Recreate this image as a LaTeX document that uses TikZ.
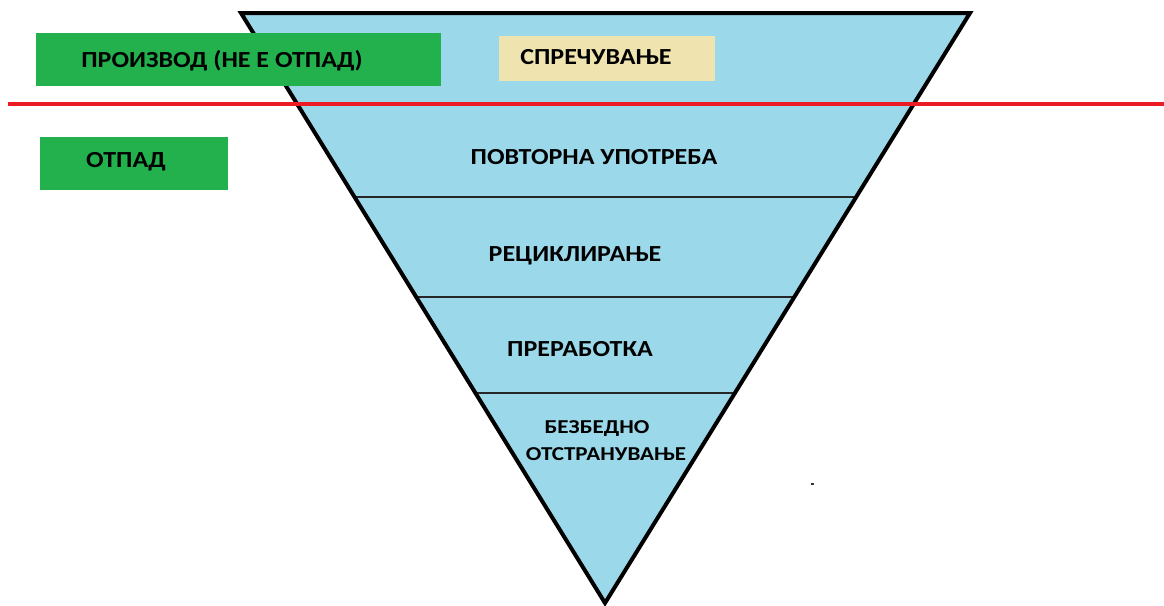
\documentclass[tikz,border=0pt]{standalone}
\usepackage{fontspec}
\usepackage{graphicx}
\setmainfont{Carlito}
\definecolor{tri}{RGB}{155,217,234}
\definecolor{grn}{RGB}{34,177,76}
\definecolor{beige}{RGB}{239,228,176}
\definecolor{redl}{RGB}{237,28,36}
\newcommand{\wideB}[1]{\scalebox{1.13}[1]{#1}}
\newcommand{\wideS}[1]{\scalebox{1.17}[1]{#1}}
\begin{document}
\begin{tikzpicture}[x=1pt,y=-1pt,
  lbl/.style={font=\fontsize{23}{26}\selectfont\bfseries, inner sep=0pt, text=black},
  slbl/.style={font=\fontsize{19.7}{24}\selectfont\bfseries, inner sep=0pt, text=black},
  box/.style={inner sep=0pt, draw=none}]
\useasboundingbox (0,0) rectangle (1164,605);
% triangle
\coordinate (tl) at (241,13);
\coordinate (tr) at (970,13);
\coordinate (ap) at (605,603);
\fill[tri] (tl) -- (tr) -- (ap) -- cycle;
% level lines
\coordinate (l1a) at (354.5,197); \coordinate (l1b) at (856,197);
\coordinate (l2a) at (416.2,297); \coordinate (l2b) at (794.5,297);
\coordinate (l3a) at (475.4,393); \coordinate (l3b) at (735,393);
\draw[line width=1.8pt, black!85] (l1a) -- (l1b);
\draw[line width=1.8pt, black!85] (l2a) -- (l2b);
\draw[line width=1.8pt, black!85] (l3a) -- (l3b);
\draw[line width=4pt, line join=miter] (tl) -- (tr) -- (ap) -- cycle;
% boxes
\fill[grn] (36,33) rectangle (441,86);
\fill[grn] (40,137) rectangle (228,190);
\fill[beige] (499,36) rectangle (715,81);
% red line
\coordinate (ra) at (8,104);
\coordinate (rb) at (1164,104);
\draw[redl, line width=3.5pt] (ra) -- (rb);
% texts
\node[lbl] (prod) at (222,61) {\wideB{ПРОИЗВОД (НЕ Е ОТПАД)}};
\node[lbl] (otp) at (126,162) {\wideB{ОТПАД}};
\node[lbl] (spr) at (596,57) {\wideB{СПРЕЧУВАЊЕ}};
\node[lbl] (pov) at (594,157) {\wideB{ПОВТОРНА УПОТРЕБА}};
\node[lbl] (rec) at (575,256) {\wideB{РЕЦИКЛИРАЊЕ}};
\node[lbl] (pre) at (580,349) {\wideB{ПРЕРАБОТКА}};
\node[slbl] (bez) at (597,429) {\wideS{БЕЗБЕДНО}};
\node[slbl] (ots) at (606,454) {\wideS{ОТСТРАНУВАЊЕ}};
% small mark
\fill[black!80] (810.5,482.5) rectangle (813.5,484.5);
\end{tikzpicture}
\end{document}
